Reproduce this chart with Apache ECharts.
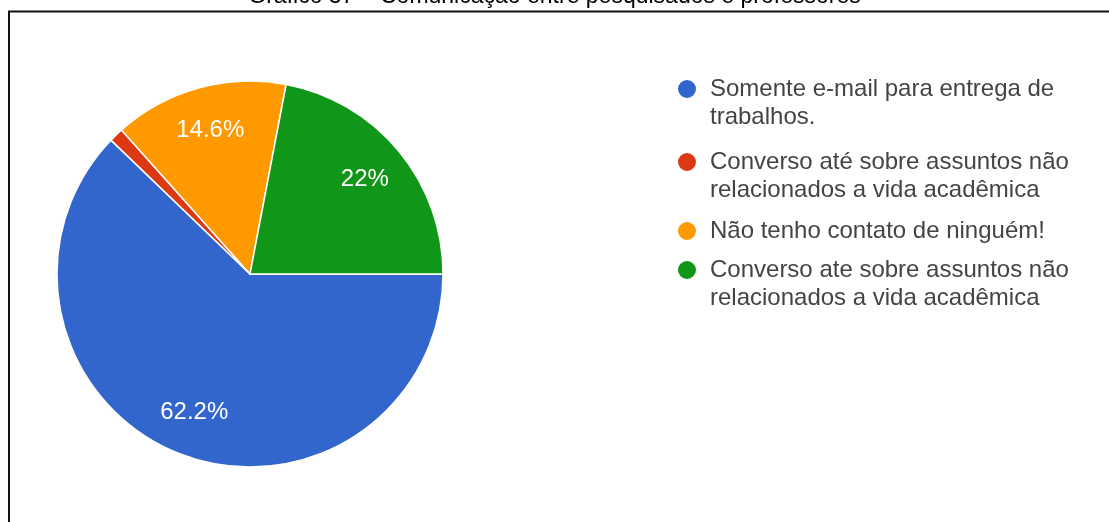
<!DOCTYPE html>
<html lang="pt-BR">
<head>
<meta charset="utf-8">
<title>Comunicação entre pesquisados e professores</title>
<script src="https://cdn.jsdelivr.net/npm/echarts@6/dist/echarts.min.js"></script>
<style>
  html, body { margin: 0; padding: 0; background: #ffffff; }
  #chart { width: 1109px; height: 522px; }
</style>
</head>
<body>
<div id="chart"></div>
<script>
// Answer categories (line breaks follow the wrapped legend text)
const categories = [
  'Somente e-mail para entrega de\ntrabalhos.',
  'Converso até sobre assuntos não\nrelacionados a vida acadêmica',
  'Não tenho contato de ninguém!',
  'Converso ate sobre assuntos não\nrelacionados a vida acadêmica'
];
// Share of respondents, in percent
const shares = [62.2, 1.2, 14.6, 22];
const sliceColors = ['#3366cc', '#dc3912', '#ff9900', '#109618'];
const titleText = 'Gráfico 37 – Comunicação entre pesquisados e professores';

const FONT = "'Liberation Sans', Arial, sans-serif";
const PIE_CENTER = [250, 274];
const PIE_RADIUS = 193;
const LINE_H = 28;
// vertical centre of each legend marker
const legendRowCenters = [89, 162, 231, 270];

// One legend block per category. Legend text is centred on its marker, so
// wrapped labels get matching blank lines on top; that keeps the marker
// level with the first line of the label.
const legends = categories.map(function (name, i) {
  const extra = name.split('\n').length - 1;
  const half = LINE_H / 2 + LINE_H * extra;
  return {
    data: [name],
    orient: 'vertical',
    left: 676,
    top: legendRowCenters[i] - half,
    padding: 0,
    icon: 'circle',
    itemWidth: 36,
    itemHeight: 20,
    formatter: function (n) { return '\n'.repeat(extra) + n; },
    textStyle: {
      fontFamily: FONT,
      fontSize: 24,
      lineHeight: LINE_H,
      color: '#444444'
    }
  };
});

const chart = echarts.init(document.getElementById('chart'), null, { renderer: 'canvas' });

chart.setOption({
  backgroundColor: '#ffffff',
  animation: false,
  title: {
    text: titleText,
    left: 'center',
    top: -15,
    padding: 0,
    textStyle: { fontFamily: FONT, fontSize: 23, fontWeight: 'normal', color: '#000000' }
  },
  legend: legends,
  graphic: [{
    type: 'rect',
    shape: { x: 9, y: 11.5, width: 1300, height: 700 },
    style: { fill: 'none', stroke: '#111111', lineWidth: 2 },
    silent: true,
    z: -1
  }],
  series: [
    {
      name: 'slices',
      type: 'pie',
      center: PIE_CENTER,
      radius: PIE_RADIUS,
      startAngle: 0,
      clockwise: true,
      label: { show: false },
      labelLine: { show: false },
      itemStyle: { borderColor: '#ffffff', borderWidth: 1.5 },
      emphasis: { scale: false },
      data: categories.map(function (name, i) {
        return { name: name, value: shares[i], itemStyle: { color: sliceColors[i] } };
      })
    },
    {
      // transparent ring that carries the percentage labels further out
      name: 'labels',
      type: 'pie',
      center: PIE_CENTER,
      radius: [99, PIE_RADIUS],
      startAngle: 0,
      clockwise: true,
      silent: true,
      z: 3,
      itemStyle: { color: 'transparent', borderWidth: 0 },
      emphasis: { disabled: true },
      labelLine: { show: false },
      label: {
        show: true,
        position: 'inside',
        formatter: function (p) { return p.value >= 5 ? p.value + '%' : ''; },
        color: '#ffffff',
        fontFamily: FONT,
        fontSize: 24
      },
      data: categories.map(function (name, i) {
        return { name: name, value: shares[i] };
      })
    }
  ]
});
</script>
</body>
</html>
